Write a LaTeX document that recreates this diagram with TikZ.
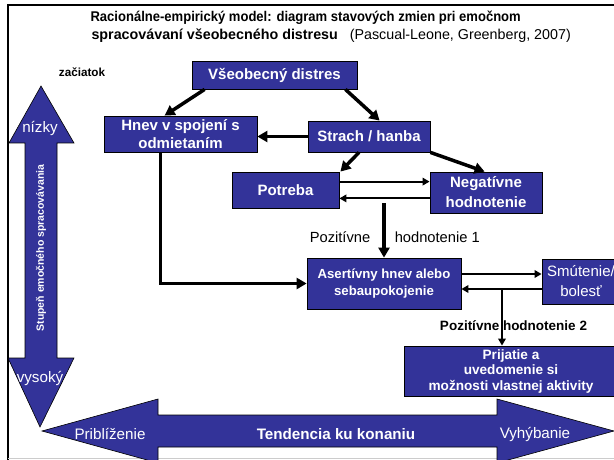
\documentclass[tikz,border=0pt]{standalone}
\usepackage{graphicx}
\usepackage{fontspec}
\setmainfont{Liberation Sans}
\usetikzlibrary{arrows.meta}
\definecolor{boxblue}{RGB}{51,51,153}
\tikzset{
  box/.style={draw=black, fill=boxblue, text=white, font=\fontsize{15}{18.5}\selectfont\bfseries,
    align=center, inner sep=0pt, line width=0.8pt},
  bigarrow/.style={fill=boxblue, draw=black, line width=0.6pt},
  fatline/.style={line width=3.5pt, -{Triangle[length=10pt,width=11pt]}},
  thinline/.style={line width=2pt, -{Triangle[length=7pt,width=7.5pt]}},
  lbl/.style={font=\fontsize{14.7}{17}\selectfont, inner sep=0pt},
  wlbl/.style={text=white, font=\fontsize{15.2}{18}\selectfont},
}
\begin{document}
\begin{tikzpicture}[x=1pt,y=-1pt]
\useasboundingbox (0,0) rectangle (614,460);
\clip (0,0) rectangle (614,460);
% frame
\draw[line width=2.5pt] (8,460) -- (8,5) -- (614,5);
\draw[gray!40, line width=0.8pt] (8,458) -- (614,458);

% title
\node[font=\fontsize{14.1}{15}\selectfont\bfseries, anchor=west] (title1) at (87,18)
  {\scalebox{0.925}[1]{Racionálne-empirický model: diagram stavových zmien pri emočnom}};
\node[font=\fontsize{14.3}{17}\selectfont\bfseries, anchor=west] (title2) at (88,35.5)
  {spracovávaní všeobecného distresu {\mdseries\ \ (Pascual-Leone, Greenberg, 2007)}};
\node[font=\fontsize{11.7}{13}\selectfont\bfseries] (start) at (82,72) {začiatok};

% big arrows
\draw[bigarrow] (41,86) -- (74,143) -- (57,143) -- (57,358) -- (74,358) -- (40,427)
  -- (8,358) -- (25,358) -- (25,143) -- (9,143) -- cycle;
\node[wlbl] (low) at (40,128) {nízky};
\node[wlbl] (high) at (40,378) {vysoký};
\node[text=white, font=\fontsize{10.5}{12}\selectfont\bfseries, rotate=90] (depth) at (41,248)
  {Stupeň emočného spracovávania};

\draw[bigarrow] (42,431) -- (158,399) -- (158,415) -- (497,415) -- (497,399) -- (614,431)
  -- (497,463) -- (497,447) -- (158,447) -- (158,463) -- cycle;
\node[wlbl] (near) at (110,434) {Priblíženie};
\node[wlbl, font=\fontsize{15.2}{18}\selectfont\bfseries] (act) at (336,434) {Tendencia ku konaniu};
\node[wlbl] (avoid) at (535,434) {Vyhýbanie};

% states
\node[box, minimum width=165pt, minimum height=28pt] (distres) at (274.5,75) {Všeobecný distres};
\node[box, minimum width=153pt, minimum height=36pt] (hnev) at (180.5,134) {Hnev v spojení s\\odmietaním};
\node[box, minimum width=122pt, minimum height=31pt] (strach) at (369,136.5) {Strach / hanba};
\node[box, minimum width=107pt, minimum height=36pt] (potreba) at (285.5,190) {Potreba};
\node[box, minimum width=112pt, minimum height=41pt, font=\fontsize{15}{20}\selectfont\bfseries] (negat) at (486,192.5)
  {Negatívne\\hodnotenie};
\node[box, minimum width=154pt, minimum height=51pt, font=\fontsize{13.2}{17}\selectfont\bfseries] (asert) at (384,283.5)
  {Asertívny hnev alebo\\sebaupokojenie};
\node[box, minimum width=78pt, minimum height=45pt, font=\fontsize{15}{20}\selectfont] (smut) at (581,281.5)
  {Smútenie/\\bolesť};
\node[box, minimum width=214pt, minimum height=50pt, font=\fontsize{13.6}{15.5}\selectfont\bfseries] (prij) at (511,371)
  {Prijatie a\\uvedomenie si\\možnosti vlastnej aktivity};

% transitions
\draw[fatline] ([xshift=13pt]distres.south west) -- ([xshift=61pt]hnev.north west);
\draw[fatline] ([xshift=-12pt]distres.south east) -- ([xshift=72pt]strach.north west);
\draw[fatline] (strach.west) -- (strach.west -| hnev.east);
\draw[fatline] ([xshift=-10pt]strach.south) -- ([xshift=1pt]potreba.north east);
\draw[fatline] (strach.south east) -- ([xshift=55pt]negat.north west);
\draw[thinline] ([yshift=-10pt]potreba.north east) -- ([yshift=-10pt]potreba.north east -| negat.west);
\draw[thinline] ([yshift=10pt]potreba.south east -| negat.west) -- ([yshift=10pt]potreba.south east);
\coordinate (p1) at (384,203);
\draw[fatline] (p1) -- node[lbl, pos=0.62, left=12pt] (pos1) {Pozitívne}
  node[lbl, pos=0.62, right=9pt] (hod1) {hodnotenie 1} (p1 |- asert.north);
\draw[fatline] ([xshift=-20pt]hnev.south) |- (asert.west);
\draw[thinline] ([yshift=9.5pt]asert.east) -- ([yshift=9.5pt]asert.east -| smut.west);
\draw[thinline] ([yshift=-5.5pt]asert.east -| smut.west) -- ([yshift=-5.5pt]asert.east);
\coordinate (p2) at (502,289);
\draw[thinline] (p2) -- (p2 |- prij.north);
\node[font=\fontsize{13.5}{15}\selectfont\bfseries] (pos2) at (513.5,326) {Pozitívne hodnotenie 2};
\end{tikzpicture}
\end{document}
